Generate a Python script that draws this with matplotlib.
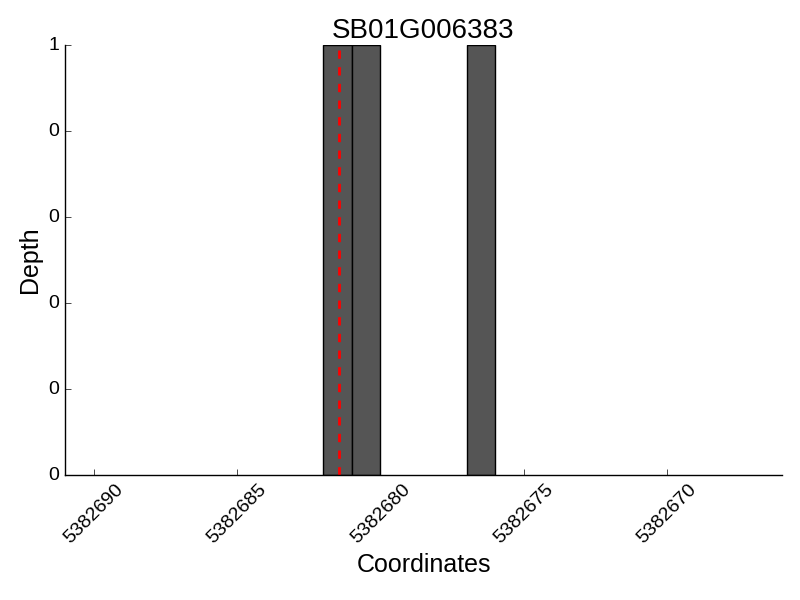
import matplotlib
matplotlib.use('Agg')
import matplotlib.pyplot as plt
from matplotlib.ticker import FormatStrFormatter

plt.style.use('classic')
plt.rcParams['font.family'] = ['Liberation Sans', 'DejaVu Sans']

gene = 'SB01G006383'
positions = [5382681, 5382680, 5382676]
depths = [1, 1, 1]
snp_pos = 5382681.45
x_ticks = [5382690, 5382685, 5382680, 5382675, 5382670]

fig = plt.figure(figsize=(8, 6), dpi=100)
ax = fig.add_axes((0.08125, 0.2083, 0.89625, 0.7167))

ax.bar(positions, depths, width=1, align='edge', color='#555555', edgecolor='black', linewidth=1)
ax.axvline(snp_pos, color='red', linestyle='--', linewidth=2)

ax.set_xlim(5382691, 5382666)
ax.set_ylim(0, 1)
ax.set_xticks(x_ticks)
ax.xaxis.set_major_formatter(FormatStrFormatter('%d'))
ax.yaxis.set_major_formatter(FormatStrFormatter('%d'))
ax.tick_params(labelsize=14, top=False, right=False)
plt.setp(ax.get_xticklabels(), rotation=45)

ax.spines['top'].set_visible(False)
ax.spines['right'].set_visible(False)

ax.set_title(gene, fontsize=20)
ax.set_xlabel('Coordinates', fontsize=18)
ax.set_ylabel('Depth', fontsize=18)

fig.savefig('out.png', dpi=100)
